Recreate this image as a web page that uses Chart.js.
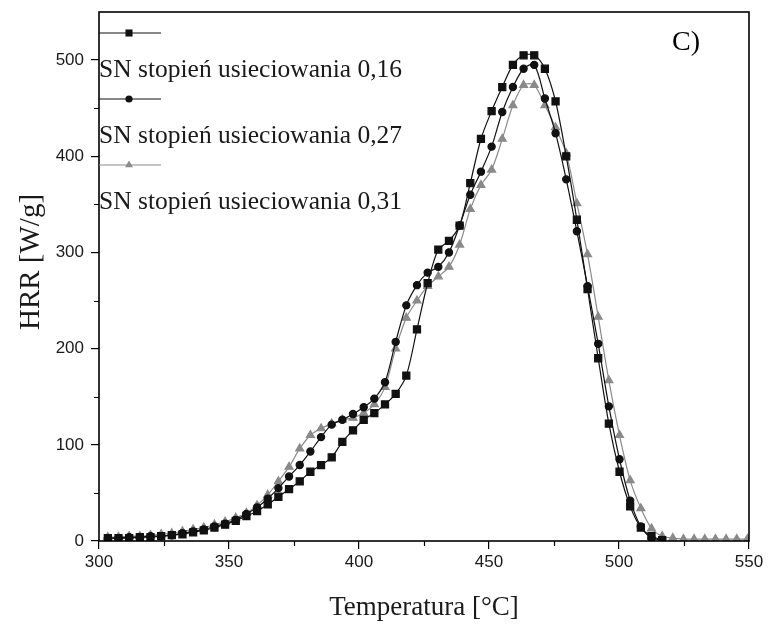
<!DOCTYPE html>
<html>
<head>
<meta charset="utf-8">
<title>HRR – SN</title>
<script src="https://cdn.jsdelivr.net/npm/chart.js@4.4.0/dist/chart.umd.min.js"></script>
<style>
  html, body { margin: 0; padding: 0; background: #fff; }
  canvas { display: block; }
</style>
</head>
<body>
<canvas id="hrrChart" width="771" height="629"></canvas>
<script>
// ── Data ─────────────────────────────────────────────────────────
const temperatures = [
  303.4, 307.5, 311.6, 315.7, 319.8, 323.9, 328.0, 332.1, 336.2, 340.3,
  344.4, 348.5, 352.6, 356.7, 360.8, 364.9, 369.0, 373.1, 377.2, 381.3,
  385.4, 389.5, 393.6, 397.7, 401.8, 405.9, 410.0, 414.1, 418.2, 422.3,
  426.4, 430.5, 434.6, 438.7, 442.8, 446.9, 451.0, 455.1, 459.2, 463.3,
  467.4, 471.5, 475.6, 479.7, 483.8, 487.9, 492.0, 496.1, 500.2, 504.3,
  508.4, 512.5, 516.6, 520.7, 524.8, 528.9, 533.0, 537.1, 541.2, 545.3,
  549.4
];

// SN stopień usieciowania 0,16 (squares)
const hrr016 = [
  3, 3, 3, 4, 4, 5, 6, 7, 9, 11,
  14, 17, 21, 26, 31, 38, 46, 54, 62, 72,
  79, 87, 103, 115, 126, 133, 142, 153, 172, 220,
  268, 303, 312, 328, 372, 418, 447, 472, 495, 505,
  505, 491, 457, 400, 334, 262, 190, 122, 72, 36,
  14, 5, 1, null, null, null, null, null, null, null,
  null
];

// SN stopień usieciowania 0,27 (circles)
const hrr027 = [
  3, 3, 4, 4, 5, 5, 6, 8, 10, 12,
  15, 18, 22, 28, 35, 44, 55, 67, 79, 93,
  108, 121, 126, 132, 139, 148, 165, 207, 245, 266,
  279, 285, 300, 328, 360, 384, 410, 446, 472, 491,
  495, 460, 424, 376, 322, 265, 205, 140, 85, 42,
  15, 3, 1, null, null, null, null, null, null, null,
  null
];

// SN stopień usieciowania 0,31 (grey triangles)
const hrr031 = [
  4, 4, 5, 5, 6, 7, 8, 10, 12, 14,
  17, 20, 24, 29, 37, 48, 62, 77, 96, 110,
  117, 122, 126, 128, 133, 142, 160, 200, 232, 250,
  265, 275, 285, 308, 345, 370, 386, 418, 453, 474,
  474, 453, 430, 403, 351, 298, 233, 167, 110, 63,
  34, 13, 5, 3, 2, 2, 2, 2, 2, 2,
  2
];

const seriesLabels = [
  "SN stopień usieciowania 0,16",
  "SN stopień usieciowania 0,27",
  "SN stopień usieciowania 0,31"
];

const xMajorTicks = [300, 350, 400, 450, 500, 550];
const xMinorTicks = [325, 375, 425, 475, 525];
const yMajorTicks = [0, 100, 200, 300, 400, 500];
const yMinorTicks = [50, 150, 250, 350, 450];

// ── Helpers ──────────────────────────────────────────────────────
const toPoints = vals => temperatures.map((t, i) => ({ x: t, y: vals[i] }));
const serif = "'Liberation Serif', 'Times New Roman', serif";

function drawMarker(ctx, style, cx, cy, r, color) {
  ctx.fillStyle = color;
  ctx.beginPath();
  if (style === "rect") {
    const s = r * Math.SQRT1_2;
    ctx.rect(cx - s, cy - s, 2 * s, 2 * s);
  } else if (style === "triangle") {
    ctx.moveTo(cx, cy - r);
    ctx.lineTo(cx + r * 0.866, cy + r * 0.5);
    ctx.lineTo(cx - r * 0.866, cy + r * 0.5);
    ctx.closePath();
  } else {
    ctx.arc(cx, cy, r, 0, Math.PI * 2);
  }
  ctx.fill();
}

// ── Frame, minor ticks, y title, stacked legend, panel letter ───
const framePlugin = {
  id: "framePlugin",
  afterDraw(chart) {
    const { ctx, chartArea: a, scales: { x, y } } = chart;
    ctx.save();

    ctx.strokeStyle = "#000";
    ctx.lineWidth = 1.2;
    ctx.beginPath();
    xMinorTicks.forEach(v => {
      const px = Math.round(x.getPixelForValue(v)) + 0.5;
      ctx.moveTo(px, a.bottom);
      ctx.lineTo(px, a.bottom + 5);
    });
    yMinorTicks.forEach(v => {
      const py = Math.round(y.getPixelForValue(v)) + 0.5;
      ctx.moveTo(a.left, py);
      ctx.lineTo(a.left - 5, py);
    });
    ctx.stroke();

    ctx.lineWidth = 1.6;
    ctx.strokeRect(a.left, a.top, a.right - a.left, a.bottom - a.top);

    // y axis title, sitting a little above the axis middle as in the figure
    ctx.save();
    ctx.translate(31, 262);
    ctx.rotate(-Math.PI / 2);
    ctx.font = `29px ${serif}`;
    ctx.fillStyle = "#1a1a1a";
    ctx.textAlign = "center";
    ctx.textBaseline = "middle";
    ctx.fillText("HRR [W/g]", 0, 0);
    ctx.restore();

    // legend: sample line on one row, label on the next
    chart.data.datasets.forEach((ds, i) => {
      const ly = 33 + i * 66;
      ctx.strokeStyle = ds.borderColor;
      ctx.lineWidth = 1.2;
      ctx.beginPath();
      ctx.moveTo(a.left, ly);
      ctx.lineTo(a.left + 62, ly);
      ctx.stroke();
      drawMarker(ctx, ds.pointStyle, a.left + 30, ly, ds.pointRadius, ds.pointBackgroundColor);

      ctx.fillStyle = "#1a1a1a";
      ctx.font = `25.5px ${serif}`;
      ctx.textAlign = "left";
      ctx.textBaseline = "alphabetic";
      ctx.fillText(ds.label, a.left, 77 + i * 66);
    });

    ctx.font = `28px ${serif}`;
    ctx.fillStyle = "#000";
    ctx.fillText("C)", 672, 50);
    ctx.restore();
  }
};

// ── Chart ────────────────────────────────────────────────────────
const black = "#111";
const grey = "#8a8a8a";

new Chart(document.getElementById("hrrChart"), {
  type: "line",
  data: {
    datasets: [
      {
        label: seriesLabels[0], data: toPoints(hrr016),
        borderColor: black, pointBackgroundColor: black, pointBorderColor: black,
        pointStyle: "rect", pointRadius: 5, borderWidth: 1.2, tension: 0.3
      },
      {
        label: seriesLabels[1], data: toPoints(hrr027),
        borderColor: black, pointBackgroundColor: black, pointBorderColor: black,
        pointStyle: "circle", pointRadius: 3.6, borderWidth: 1.2, tension: 0.3
      },
      {
        label: seriesLabels[2], data: toPoints(hrr031),
        borderColor: grey, pointBackgroundColor: grey, pointBorderColor: grey,
        pointStyle: "triangle", pointRadius: 4.6, borderWidth: 1.2, tension: 0.3
      }
    ]
  },
  options: {
    responsive: false,
    devicePixelRatio: 1,
    animation: false,
    layout: { autoPadding: false, padding: { top: 12, right: 22, left: 0, bottom: 0 } },
    plugins: { legend: { display: false }, tooltip: { enabled: false } },
    scales: {
      x: {
        type: "linear", min: 300, max: 550,
        afterBuildTicks: s => { s.ticks = xMajorTicks.map(v => ({ value: v })); },
        afterFit: s => { s.height = 88; s.paddingLeft = 0; s.paddingRight = 0; },
        border: { display: false },
        grid: { drawOnChartArea: false, drawTicks: true, tickLength: 8, color: "#000", lineWidth: 1.2 },
        ticks: {
          color: "#1a1a1a", padding: 3, maxRotation: 0, autoSkip: false,
          font: { family: "'Liberation Sans', Arial, sans-serif", size: 17 }
        },
        title: {
          display: true, text: "Temperatura [°C]", color: "#1a1a1a",
          font: { family: "'Liberation Serif', 'Times New Roman', serif", size: 27 },
          padding: { top: 0, bottom: 5 }
        }
      },
      y: {
        type: "linear", min: 0, max: 550,
        afterBuildTicks: s => { s.ticks = yMajorTicks.map(v => ({ value: v })); },
        afterFit: s => { s.width = 99; s.paddingTop = 0; s.paddingBottom = 0; },
        border: { display: false },
        grid: { drawOnChartArea: false, drawTicks: true, tickLength: 8, color: "#000", lineWidth: 1.2 },
        ticks: {
          color: "#1a1a1a", padding: 7,
          font: { family: "'Liberation Sans', Arial, sans-serif", size: 17 }
        },
        title: { display: false }
      }
    }
  },
  plugins: [framePlugin]
});
</script>
</body>
</html>
